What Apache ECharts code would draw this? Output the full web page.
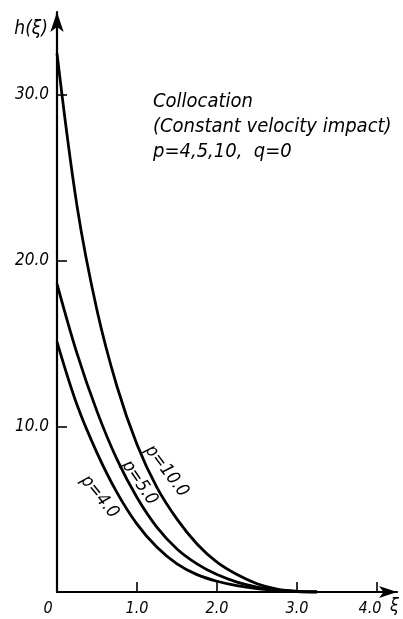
<!DOCTYPE html>
<html>
<head>
<meta charset="utf-8">
<script src="https://cdn.jsdelivr.net/npm/echarts@6/dist/echarts.min.js"></script>
<style>
html,body{margin:0;padding:0;background:#fff;}
#c{width:403px;height:619px;}
</style>
</head>
<body>
<div id="c"></div>
<script>
// ---- data ----
var xi = [0, 0.25, 0.5, 0.75, 1.0, 1.25, 1.5, 1.75, 2.0, 2.25, 2.5, 2.75, 3.0, 3.25];
var hP10 = [32.5, 23.3, 17.0, 12.4, 8.9, 6.3, 4.4, 2.9, 1.8, 1.05, 0.5, 0.18, 0.04, 0];
var hP5  = [18.6, 14.4, 10.9, 8.0, 5.7, 3.9, 2.6, 1.7, 1.05, 0.6, 0.3, 0.12, 0.03, 0];
var hP4  = [15.1, 11.3, 8.4, 6.0, 4.1, 2.7, 1.7, 1.05, 0.65, 0.38, 0.2, 0.09, 0.03, 0];
var xTickValues = [1, 2, 3, 4];
var xLabelValues = [0, 1, 2, 3, 4];
var yTickValues = [10, 20, 30];
var curveLabels = ['p=10.0', 'p=5.0', 'p=4.0'];
var curveLabelAt = [[1.37, 7.3], [1.03, 6.6], [0.53, 5.75]];
var annotationLines = ['Collocation', '(Constant velocity impact)', 'p=4,5,10,  q=0'];

var FONT = "'DejaVu Sans Condensed','Liberation Sans Narrow','Liberation Sans',sans-serif";

function pairs(xs, ys) { return xs.map(function (x, i) { return [x, ys[i]]; }); }

var chart = echarts.init(document.getElementById('c'), null, {renderer: 'canvas'});

var lineStyle = {color: '#000', width: 2.8};
function mk(name, ys) {
  return {
    name: name, type: 'line', data: pairs(xi, ys), smooth: 0.35,
    showSymbol: false, symbol: 'none', lineStyle: lineStyle, itemStyle: {color: '#000'},
    silent: true, animation: false
  };
}

chart.setOption({
  animation: false,
  backgroundColor: '#fff',
  grid: {left: 57, right: 6, top: 12, bottom: 27, containLabel: false},
  xAxis: {
    type: 'value', min: 0, max: 4.25, interval: 1,
    name: 'ξ', nameLocation: 'end', nameGap: -7,
    nameTextStyle: {color: '#000', fontFamily: FONT, fontStyle: 'italic', fontSize: 18, align: 'left', verticalAlign: 'top', padding: [5, 0, 0, 0]},
    axisLine: {show: true, lineStyle: {color: '#000', width: 2.2}, symbol: ['none', 'arrow'], symbolSize: [9, 18]},
    axisTick: {show: true, inside: true, length: 10, customValues: xTickValues, lineStyle: {color: '#000', width: 1.6}},
    axisLabel: {
      customValues: xLabelValues, margin: 9, color: '#000', fontFamily: FONT, fontStyle: 'italic', fontSize: 16,
      formatter: function (v) {
        if (v === 0) return '{a|0}';
        if (v === 4) return '{b|4.0}';
        return v.toFixed(1);
      },
      rich: {
        a: {fontFamily: FONT, fontStyle: 'italic', fontSize: 16, color: '#000', padding: [0, 18, 0, 0]},
        b: {fontFamily: FONT, fontStyle: 'italic', fontSize: 16, color: '#000', padding: [0, 14, 0, 0]}
      }
    },
    splitLine: {show: false}
  },
  yAxis: {
    type: 'value', min: 0, max: 35, interval: 10,
    name: 'h(ξ)', nameLocation: 'end', nameGap: -27,
    nameTextStyle: {color: '#000', fontFamily: FONT, fontStyle: 'italic', fontSize: 19, align: 'right', verticalAlign: 'bottom', padding: [0, 9, 0, 0]},
    axisLine: {show: true, lineStyle: {color: '#000', width: 2.2}, symbol: ['none', 'arrow'], symbolSize: [10, 20]},
    axisTick: {show: true, inside: true, length: 10, customValues: yTickValues, lineStyle: {color: '#000', width: 1.6}},
    axisLabel: {
      customValues: yTickValues, margin: 8, color: '#000', fontFamily: FONT, fontStyle: 'italic', fontSize: 17,
      formatter: function (v) { return v.toFixed(1); }
    },
    splitLine: {show: false}
  },
  series: [mk('p=10.0', hP10), mk('p=5.0', hP5), mk('p=4.0', hP4)]
});

var angles = [-53, -56, -51];
var g = [];
curveLabels.forEach(function (t, i) {
  var p = chart.convertToPixel({gridIndex: 0}, curveLabelAt[i]);
  g.push({
    type: 'text', x: p[0], y: p[1], rotation: angles[i] * Math.PI / 180,
    style: {text: t, fill: '#000', font: 'italic 18px ' + FONT, align: 'center', verticalAlign: 'middle'}
  });
});
g.push({
  type: 'text', left: 153, top: 89,
  style: {text: annotationLines.join('\n'), fill: '#000', font: 'italic 20px ' + FONT, lineHeight: 25}
});
chart.setOption({graphic: g});
</script>
</body>
</html>
